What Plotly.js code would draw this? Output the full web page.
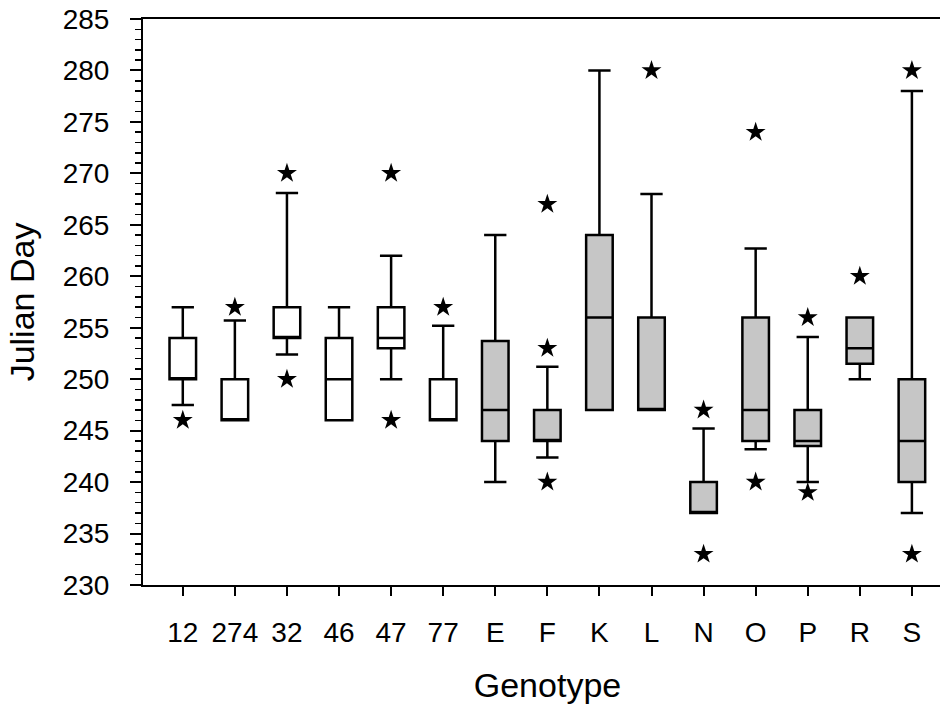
<!DOCTYPE html>
<html>
<head>
<meta charset="utf-8">
<script src="https://cdn.plot.ly/plotly-3.0.1.min.js"></script>
<style>
  html, body { margin: 0; padding: 0; background: #ffffff; overflow: hidden; }
  #chart { width: 952px; height: 704px; }
</style>
</head>
<body>
<div id="chart"></div>
<script>
// Genotype categories (x axis order)
const genotypes = ["12", "274", "32", "46", "47", "77", "E", "F", "K", "L", "N", "O", "P", "R", "S"];
// Group of each genotype: numbered clones drawn white, lettered ones grey
const genotypeGroup = ["numbered", "numbered", "numbered", "numbered", "numbered", "numbered",
                       "lettered", "lettered", "lettered", "lettered", "lettered", "lettered",
                       "lettered", "lettered", "lettered"];
// Box statistics (Julian Day)
const lowerWhisker = [247.5, 246, 252.4, 246, 250, 246, 240, 242.4, 247, 247, 237, 243.2, 240, 250, 237];
const q1Values     = [250, 246, 254, 246, 253, 246, 244, 244, 247, 247, 237, 244, 243.5, 251.5, 240];
const medianValues = [250, 246, 254, 250, 254, 246, 247, 244, 256, 247, 237, 247, 244, 253, 244];
const q3Values     = [254, 250, 257, 254, 257, 250, 253.7, 247, 264, 256, 240, 256, 247, 256, 250];
const upperWhisker = [257, 255.7, 268.1, 257, 262, 255.2, 264, 251.2, 280, 268, 245.2, 262.7, 254.1, 256, 278];
// Outliers (stars)
const outlierGenotype = ["12", "274", "32", "32", "47", "47", "77", "F", "F", "F", "L", "N", "N", "O", "O", "P", "P", "R", "S", "S"];
const outlierValue    = [246, 257, 270, 250, 270, 246, 257, 267, 253, 240, 280, 247, 233, 274, 240, 256, 239, 260, 280, 233];
// Axis ticks
const yTickValues = [230, 235, 240, 245, 250, 255, 260, 265, 270, 275, 280, 285];

function pick(arr, group) {
  return arr.filter((_, i) => genotypeGroup[i] === group);
}

function boxTrace(group, fill) {
  return {
    type: "box",
    x: pick(genotypes, group),
    q1: pick(q1Values, group),
    median: pick(medianValues, group),
    q3: pick(q3Values, group),
    lowerfence: pick(lowerWhisker, group),
    upperfence: pick(upperWhisker, group),
    fillcolor: fill,
    line: { color: "#000000", width: 2.5 },
    whiskerwidth: 0.84,
    width: 0.51,
    boxpoints: false,
    showlegend: false,
    hoverinfo: "skip"
  };
}

const traces = [
  boxTrace("numbered", "#ffffff"),
  boxTrace("lettered", "#c6c6c6"),
  {
    type: "scatter",
    mode: "markers",
    x: outlierGenotype,
    y: outlierValue,
    marker: { symbol: "star", size: 15, color: "#000000", line: { width: 0 } },
    showlegend: false,
    hoverinfo: "skip"
  }
];

const fontFamily = "'Liberation Sans', Arial, sans-serif";

const layout = {
  width: 952,
  height: 704,
  paper_bgcolor: "#ffffff",
  plot_bgcolor: "#ffffff",
  margin: { l: 142.5, r: 0, t: 19, b: 119 },
  boxmode: "overlay",
  font: { family: fontFamily, color: "#000000" },
  xaxis: {
    type: "category",
    categoryorder: "array",
    categoryarray: genotypes,
    range: [-0.764, 14.77],
    showgrid: false,
    zeroline: false,
    showline: true,
    linecolor: "#000000",
    linewidth: 2,
    mirror: true,
    ticks: "outside",
    ticklen: 9,
    tickwidth: 2,
    tickcolor: "#000000",
    ticklabelstandoff: 12,
    tickfont: { size: 28, family: fontFamily, color: "#000000" },
    title: { text: "Genotype", font: { size: 34, family: fontFamily, color: "#000000" }, standoff: 30 }
  },
  yaxis: {
    range: [230, 285],
    tickvals: yTickValues,
    showgrid: false,
    zeroline: false,
    showline: true,
    linecolor: "#000000",
    linewidth: 2,
    ticks: "outside",
    ticklen: 11,
    tickwidth: 2,
    tickcolor: "#000000",
    ticklabelstandoff: 15,
    minor: { dtick: 1, ticks: "outside", ticklen: 6, tickwidth: 1.5, tickcolor: "#000000", showgrid: false },
    tickfont: { size: 28, family: fontFamily, color: "#000000" },
    title: { text: "Julian Day", font: { size: 34, family: fontFamily, color: "#000000" }, standoff: 18 }
  }
};

Plotly.newPlot("chart", traces, layout, { displayModeBar: false, staticPlot: true });
</script>
</body>
</html>
